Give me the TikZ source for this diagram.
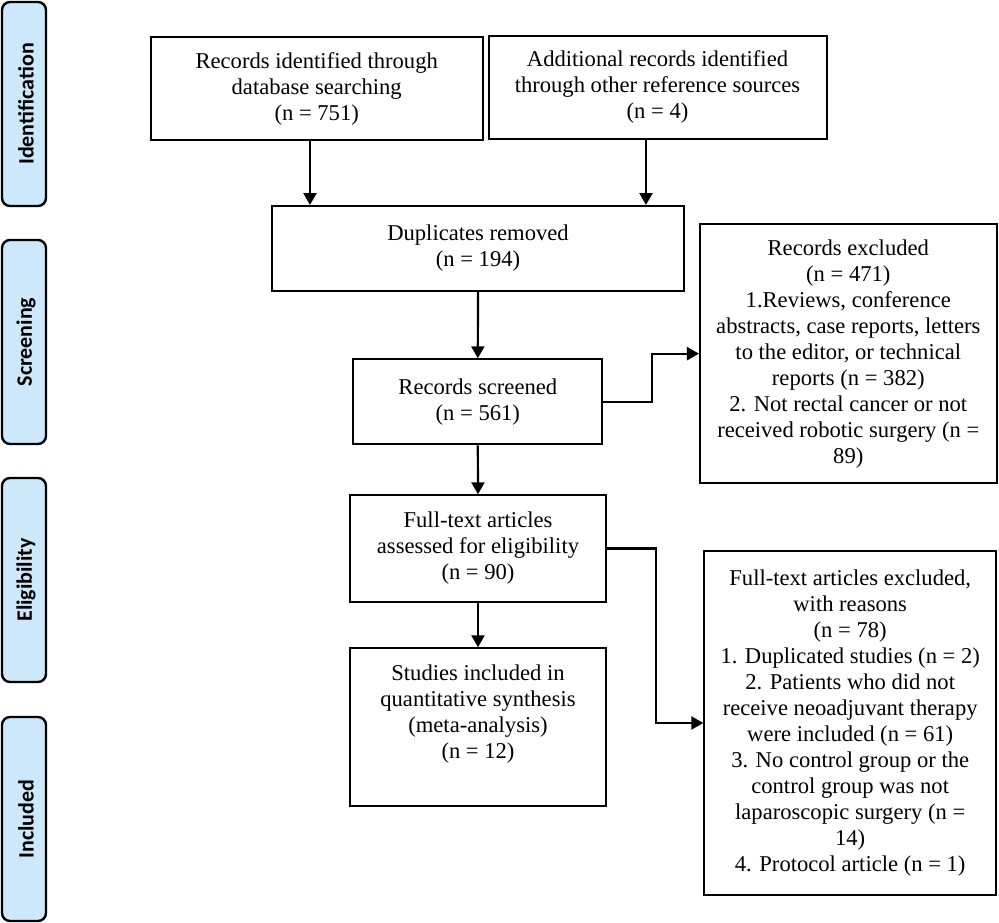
\documentclass[tikz,border=0pt]{standalone}
\usepackage{fontspec}
\setmainfont{Liberation Serif}
\newfontfamily\labfont{Carlito}
\usetikzlibrary{arrows.meta}
\definecolor{labelblue}{RGB}{205,232,250}
\tikzset{
  box/.style={draw, line width=2pt, inner sep=0pt, align=center,
    font=\fontsize{22.6}{26}\selectfont},
  phase/.style={draw, line width=2.4pt, rounded corners=8pt, fill=labelblue,
    minimum width=44pt, minimum height=204pt, inner sep=0pt},
  phasetext/.style={rotate=90, font=\labfont\bfseries\fontsize{22}{26}\selectfont},
  arr/.style={line width=2.2pt, -{Triangle[length=12pt,width=13pt]}}
}
\begin{document}
\begin{tikzpicture}[x=1pt,y=-1pt]
\useasboundingbox (0,0) rectangle (999,923);
% phase labels
\node[phase] (pid) at (24,104) {};
\node[phasetext] (tid) at (26,104) {Identification};
\node[phase] (psc) at (24,342) {};
\node[phasetext] (tsc) at (26,342) {Screening};
\node[phase] (pel) at (24,580) {};
\node[phasetext] (tel) at (26,580) {Eligibility};
\node[phase] (pin) at (24,819) {};
\node[phasetext] (tin) at (26,819) {Included};
% boxes
\node[box, minimum width=332pt, minimum height=103pt] (rid) at (316.7,88.5)
  {Records identified through\\database searching\\(n = 751)};
\node[box, minimum width=338pt, minimum height=103pt] (add) at (657.5,87.3)
  {Additional records identified\\through other reference sources\\(n = 4)};
\node[box, minimum width=412pt, minimum height=85pt] (dup) at (478,248.5)
  {Duplicates removed\\(n = 194)};
\node[box, minimum width=296.7pt, minimum height=259pt] (rex) at (848.3,353.7)
  {Records excluded\\(n = 471)\\1.Reviews, conference\\abstracts, case reports, letters\\to the editor, or technical\\reports (n = 382)\\2. Not rectal cancer or not\\received robotic surgery (n =\\89)};
\node[box, minimum width=249pt, minimum height=85pt] (scr) at (477.8,401.8)
  {Records screened\\(n = 561)};
\node[box, minimum width=256pt, minimum height=106.4pt] (ass) at (478,548.5)
  {Full-text articles\\assessed for eligibility\\(n = 90)};
\node[box, minimum width=256pt, minimum height=157.4pt] (inc) at (478,727)
  {Studies included in\\quantitative synthesis\\(meta-analysis)\\(n = 12)\\[-4pt]\strut};
\node[box, minimum width=291.7pt, minimum height=344pt] (fex) at (850.2,723)
  {Full-text articles excluded,\\with reasons\\(n = 78)\\1. Duplicated studies (n = 2)\\2. Patients who did not\\receive neoadjuvant therapy\\were included (n = 61)\\3. No control group or the\\control group was not\\laparoscopic surgery (n =\\14)\\4. Protocol article (n = 1)};
% connectors
\draw[arr] ([xshift=-6.7pt]rid.south) -- ([xshift=-6.7pt]rid.south |- dup.north);
\draw[arr] ([xshift=-11.5pt]add.south) -- ([xshift=-11.5pt]add.south |- dup.north);
\draw[arr] (dup.south) -- (scr.north);
\draw[arr] (scr.east) -- ++(49,0) |- (rex.west);
\draw[arr] (scr.south) -- (ass.north);
\draw[arr] (ass.east) -- ++(49,0) |- (fex.west);
\draw[arr] (ass.south) -- (inc.north);
\end{tikzpicture}
\end{document}
